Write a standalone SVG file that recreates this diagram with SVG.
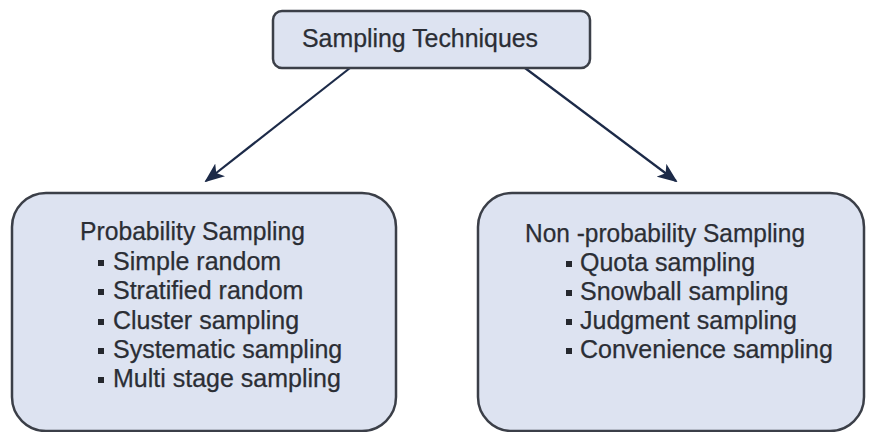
<svg xmlns="http://www.w3.org/2000/svg" width="869" height="432" viewBox="0 0 869 432">
  <defs>
    <marker id="arrow" viewBox="0 0 20 16" refX="18" refY="8" markerWidth="20" markerHeight="16" markerUnits="userSpaceOnUse" orient="auto">
      <path d="M0,0 L20,8 L0,16 L5,8 Z" fill="#1c2a48"/>
    </marker>
  </defs>
  <style>
    .box { fill: #dde3f1; stroke: #3b3f48; stroke-width: 2.5; }
    .title, .item { font-family: "Liberation Sans", Arial, sans-serif; font-size: 25px; fill: #2b2e35; stroke: #2b2e35; stroke-width: 0.25; }
    .bullet { fill: #25282e; }
    .conn { stroke: #1c2a48; stroke-width: 2.2; fill: none; marker-end: url(#arrow); }
  </style>
  <rect width="869" height="432" fill="#ffffff"/>

  <g id="connectors">
    <line class="conn" x1="350" y1="68" x2="206" y2="181"/>
    <line class="conn" x1="525" y1="68" x2="676" y2="181"/>
  </g>

  <g id="root">
    <rect class="box" x="273" y="11" width="317" height="57" rx="9"/>
    <text class="title" x="302" y="47" textLength="236" lengthAdjust="spacingAndGlyphs">Sampling Techniques</text>
  </g>

  <g id="probability">
    <rect class="box" x="12" y="193" width="384" height="238" rx="34"/>
    <text class="title" x="80" y="240" textLength="225" lengthAdjust="spacingAndGlyphs">Probability Sampling</text>
    <rect class="bullet" x="98" y="260" width="6" height="6"/>
    <text class="item" x="113" y="270">Simple random</text>
    <rect class="bullet" x="98" y="289" width="6" height="6"/>
    <text class="item" x="113" y="299">Stratified random</text>
    <rect class="bullet" x="98" y="319" width="6" height="6"/>
    <text class="item" x="113" y="329">Cluster sampling</text>
    <rect class="bullet" x="98" y="348" width="6" height="6"/>
    <text class="item" x="113" y="358">Systematic sampling</text>
    <rect class="bullet" x="98" y="377" width="6" height="6"/>
    <text class="item" x="113" y="387">Multi stage sampling</text>
  </g>

  <g id="non-probability">
    <rect class="box" x="478" y="193" width="386" height="238" rx="34"/>
    <text class="title" x="525" y="242" textLength="280" lengthAdjust="spacingAndGlyphs">Non -probability Sampling</text>
    <rect class="bullet" x="566" y="261" width="6" height="6"/>
    <text class="item" x="580" y="271">Quota sampling</text>
    <rect class="bullet" x="566" y="290" width="6" height="6"/>
    <text class="item" x="580" y="300">Snowball sampling</text>
    <rect class="bullet" x="566" y="319" width="6" height="6"/>
    <text class="item" x="580" y="329">Judgment sampling</text>
    <rect class="bullet" x="566" y="348" width="6" height="6"/>
    <text class="item" x="580" y="358">Convenience sampling</text>
  </g>
</svg>
